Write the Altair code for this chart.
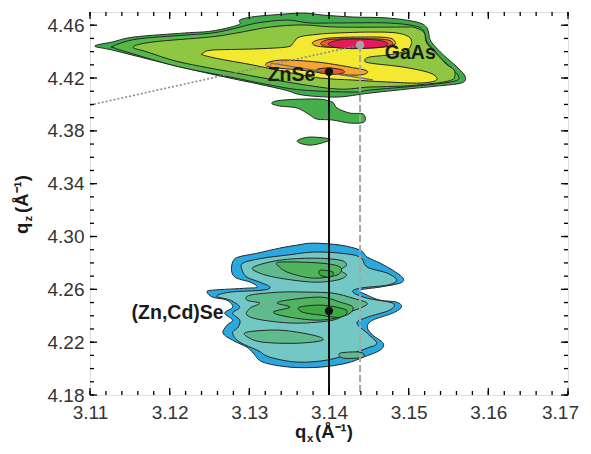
import altair as alt
import pandas as pd

W, H = 478, 383
FONT = "Liberation Sans"
OUTLINE = "#262626"

X_DOMAIN = [3.11, 3.17]
Y_DOMAIN = [4.18, 4.47]
X_LABELS = [3.11, 3.12, 3.13, 3.14, 3.15, 3.16, 3.17]
Y_LABELS = [4.18, 4.22, 4.26, 4.30, 4.34, 4.38, 4.42, 4.46]
X_MINOR = [round(3.11 + 0.002 * k, 3) for k in range(31)]
Y_MINOR = [round(4.18 + 0.01 * k, 2) for k in range(29)]

# ---- upper reflection (GaAs substrate + ZnSe buffer) contours ----
GAAS_C1 = [(3.1106, 4.4442), (3.1128, 4.4473), (3.1156, 4.4511), (3.1219, 4.4541), (3.1253, 4.4556),
           (3.1286, 4.4602), (3.1288, 4.4639), (3.1303, 4.4662), (3.1328, 4.4677), (3.1367, 4.4692),
           (3.1392, 4.4677), (3.1430, 4.4662), (3.1473, 4.4655), (3.1510, 4.4624), (3.1523, 4.4579),
           (3.1527, 4.4488), (3.1535, 4.4427), (3.1545, 4.4367), (3.1562, 4.4276), (3.1571, 4.4208),
           (3.1566, 4.4162), (3.1535, 4.4139), (3.1510, 4.4124), (3.1451, 4.4086), (3.1410, 4.4056),
           (3.1367, 4.4071), (3.1345, 4.4109), (3.1311, 4.4155), (3.1269, 4.4208), (3.1219, 4.4276),
           (3.1178, 4.4336), (3.1128, 4.4412)]
GAAS_C2 = [(3.1129, 4.4442), (3.1159, 4.4495), (3.1222, 4.4526), (3.1254, 4.4541), (3.1284, 4.4579),
           (3.1310, 4.4617), (3.1347, 4.4639), (3.1376, 4.4617), (3.1410, 4.4617), (3.1473, 4.4617),
           (3.1508, 4.4594), (3.1519, 4.4556), (3.1523, 4.4473), (3.1532, 4.4412), (3.1540, 4.4352),
           (3.1555, 4.4268), (3.1563, 4.4208), (3.1558, 4.4177), (3.1534, 4.4155), (3.1495, 4.4132),
           (3.1451, 4.4109), (3.1430, 4.4094), (3.1367, 4.4109), (3.1326, 4.4147), (3.1276, 4.4208),
           (3.1213, 4.4283), (3.1159, 4.4374), (3.1131, 4.4427)]
GAAS_C3 = [(3.1154, 4.4435), (3.1179, 4.4473), (3.1251, 4.4511), (3.1284, 4.4541), (3.1326, 4.4586),
           (3.1367, 4.4602), (3.1410, 4.4586), (3.1493, 4.4586), (3.1505, 4.4586), (3.1519, 4.4548),
           (3.1522, 4.4473), (3.1530, 4.4412), (3.1539, 4.4359), (3.1547, 4.4306), (3.1557, 4.4261),
           (3.1558, 4.4215), (3.1554, 4.4185), (3.1535, 4.4162), (3.1493, 4.4139), (3.1451, 4.4132),
           (3.1410, 4.4117), (3.1347, 4.4170), (3.1284, 4.4238), (3.1213, 4.4321), (3.1172, 4.4397)]
GAAS_C4 = [(3.1242, 4.4389), (3.1254, 4.4412), (3.1305, 4.4420), (3.1347, 4.4435), (3.1355, 4.4465),
           (3.1363, 4.4511), (3.1389, 4.4533), (3.1410, 4.4541), (3.1451, 4.4548), (3.1485, 4.4541),
           (3.1502, 4.4503), (3.1502, 4.4435), (3.1493, 4.4397), (3.1473, 4.4374), (3.1451, 4.4359),
           (3.1445, 4.4336), (3.1451, 4.4314), (3.1493, 4.4283), (3.1527, 4.4238), (3.1535, 4.4185),
           (3.1514, 4.4162), (3.1473, 4.4170), (3.1430, 4.4185), (3.1389, 4.4200), (3.1347, 4.4245),
           (3.1305, 4.4298), (3.1263, 4.4344), (3.1242, 4.4374)]
GAAS_C5 = [(3.1380, 4.4473), (3.1401, 4.4503), (3.1451, 4.4511), (3.1476, 4.4503), (3.1483, 4.4473),
           (3.1480, 4.4450), (3.1451, 4.4431), (3.1410, 4.4431), (3.1385, 4.4442)]
GAAS_C6 = [(3.1391, 4.4473), (3.1407, 4.4495), (3.1464, 4.4495), (3.1479, 4.4473), (3.1476, 4.4442),
           (3.1451, 4.4427), (3.1407, 4.4431), (3.1392, 4.4446)]
GAAS_C7 = [(3.1399, 4.4461), (3.1417, 4.4492), (3.1451, 4.4492), (3.1471, 4.4473), (3.1470, 4.4439),
           (3.1435, 4.4423), (3.1409, 4.4431)]
ZNSE_C1 = [(3.1322, 4.4314), (3.1342, 4.4336), (3.1385, 4.4321), (3.1426, 4.4283), (3.1448, 4.4253),
           (3.1439, 4.4223), (3.1405, 4.4230), (3.1363, 4.4261), (3.1326, 4.4283)]
ZNSE_C2 = [(3.1386, 4.4268), (3.1401, 4.4276), (3.1417, 4.4261), (3.1418, 4.4238), (3.1401, 4.4230),
           (3.1385, 4.4245)]
SAT_A = [(3.1328, 4.4011), (3.1342, 4.4033), (3.1385, 4.4041), (3.1404, 4.4018), (3.1410, 4.3973),
         (3.1426, 4.3935), (3.1443, 4.3927), (3.1444, 4.3867), (3.1426, 4.3859), (3.1405, 4.3882),
         (3.1385, 4.3889), (3.1376, 4.3920), (3.1360, 4.3973), (3.1338, 4.3988)]
SAT_B = [(3.1361, 4.3730), (3.1376, 4.3753), (3.1401, 4.3738), (3.1391, 4.3708), (3.1376, 4.3692),
         (3.1363, 4.3708)]

# ---- lower reflection ((Zn,Cd)Se layer) contours ----
ZNCD_C1 = [(3.1279, 4.2806), (3.1286, 4.2844), (3.1310, 4.2874), (3.1338, 4.2912), (3.1360, 4.2935),
           (3.1380, 4.2950), (3.1414, 4.2935), (3.1439, 4.2897), (3.1448, 4.2844), (3.1464, 4.2799),
           (3.1480, 4.2745), (3.1493, 4.2685), (3.1489, 4.2647), (3.1464, 4.2617), (3.1439, 4.2594),
           (3.1448, 4.2556), (3.1464, 4.2518), (3.1485, 4.2503), (3.1491, 4.2465), (3.1480, 4.2420),
           (3.1455, 4.2367), (3.1448, 4.2314), (3.1455, 4.2253), (3.1468, 4.2192), (3.1464, 4.2139),
           (3.1443, 4.2086), (3.1422, 4.2041), (3.1389, 4.2011), (3.1351, 4.2011), (3.1317, 4.2049),
           (3.1305, 4.2117), (3.1297, 4.2162), (3.1279, 4.2215), (3.1267, 4.2268), (3.1272, 4.2329),
           (3.1279, 4.2367), (3.1269, 4.2420), (3.1279, 4.2465), (3.1272, 4.2518), (3.1254, 4.2541),
           (3.1247, 4.2579), (3.1254, 4.2594), (3.1297, 4.2609), (3.1310, 4.2617), (3.1301, 4.2655),
           (3.1284, 4.2685), (3.1278, 4.2730)]
ZNCD_C2 = [(3.1292, 4.2799), (3.1317, 4.2836), (3.1347, 4.2859), (3.1380, 4.2882), (3.1414, 4.2874),
           (3.1439, 4.2844), (3.1448, 4.2768), (3.1473, 4.2723), (3.1485, 4.2670), (3.1473, 4.2632),
           (3.1439, 4.2609), (3.1430, 4.2579), (3.1448, 4.2533), (3.1480, 4.2495), (3.1476, 4.2442),
           (3.1448, 4.2389), (3.1435, 4.2344), (3.1448, 4.2268), (3.1460, 4.2192), (3.1448, 4.2155),
           (3.1430, 4.2117), (3.1397, 4.2064), (3.1360, 4.2049), (3.1326, 4.2086), (3.1310, 4.2139),
           (3.1288, 4.2200), (3.1279, 4.2268), (3.1286, 4.2314), (3.1288, 4.2367), (3.1279, 4.2420),
           (3.1288, 4.2465), (3.1276, 4.2518), (3.1259, 4.2548), (3.1276, 4.2579), (3.1317, 4.2594),
           (3.1326, 4.2617), (3.1313, 4.2655), (3.1297, 4.2692), (3.1291, 4.2745)]
ZNCD_C3A = [(3.1305, 4.2768), (3.1338, 4.2821), (3.1380, 4.2836), (3.1414, 4.2821), (3.1422, 4.2783),
            (3.1414, 4.2745), (3.1422, 4.2708), (3.1410, 4.2670), (3.1380, 4.2655), (3.1338, 4.2685),
            (3.1313, 4.2723)]
ZNCD_C3B = [(3.1301, 4.2556), (3.1338, 4.2579), (3.1372, 4.2579), (3.1405, 4.2571), (3.1430, 4.2533),
            (3.1448, 4.2495), (3.1439, 4.2458), (3.1422, 4.2420), (3.1405, 4.2367), (3.1360, 4.2344),
            (3.1317, 4.2367), (3.1297, 4.2405), (3.1301, 4.2458), (3.1313, 4.2495), (3.1297, 4.2518)]
ZNCD_C3C = [(3.1297, 4.2276), (3.1338, 4.2291), (3.1380, 4.2253), (3.1392, 4.2215), (3.1360, 4.2192),
            (3.1317, 4.2200), (3.1298, 4.2238)]
ZNCD_C3D = [(3.1414, 4.2117), (3.1439, 4.2124), (3.1443, 4.2086), (3.1418, 4.2079)]
ZNCD_C4A = [(3.1338, 4.2806), (3.1389, 4.2799), (3.1414, 4.2768), (3.1410, 4.2708), (3.1380, 4.2685),
            (3.1351, 4.2723), (3.1338, 4.2768)]
ZNCD_C4B = [(3.1347, 4.2518), (3.1389, 4.2541), (3.1414, 4.2503), (3.1430, 4.2465), (3.1422, 4.2405),
            (3.1389, 4.2367), (3.1351, 4.2389), (3.1330, 4.2427), (3.1351, 4.2465), (3.1335, 4.2495)]
ZNCD_C5A = [(3.1389, 4.2745), (3.1405, 4.2730), (3.1401, 4.2692), (3.1389, 4.2708)]
ZNCD_C5B = [(3.1363, 4.2465), (3.1392, 4.2480), (3.1422, 4.2442), (3.1414, 4.2389), (3.1389, 4.2405),
            (3.1367, 4.2427)]

CONTOURS = [
    (GAAS_C1, "#3fab4a"), (GAAS_C2, "#58b748"), (GAAS_C3, "#8fc742"), (GAAS_C4, "#f3e931"),
    (GAAS_C5, "#f6a531"), (GAAS_C6, "#ef5a2b"), (GAAS_C7, "#e31b5c"),
    (ZNSE_C1, "#f6a531"), (ZNSE_C2, "#ef5a2b"),
    (SAT_A, "#45b04a"), (SAT_B, "#45b04a"),
    (ZNCD_C1, "#2aa8e0"), (ZNCD_C2, "#73c7c5"),
    (ZNCD_C3A, "#5fba8e"), (ZNCD_C3B, "#5fba8e"), (ZNCD_C3C, "#5fba8e"), (ZNCD_C3D, "#5fba8e"),
    (ZNCD_C4A, "#4fb45d"), (ZNCD_C4B, "#4fb45d"),
    (ZNCD_C5A, "#3daa47"), (ZNCD_C5B, "#3daa47"),
]

PEAK_NAMES = ["GaAs", "ZnSe", "(Zn,Cd)Se"]
PEAK_X = [3.1439, 3.1400, 3.1400]
PEAK_Y = [4.4450, 4.4248, 4.2437]
PEAK_COLORS = ["#a6a6a6", "#111111", "#111111"]
LABEL_X = [3.1502, 3.1353, 3.1210]
LABEL_Y = [4.4389, 4.4223, 4.2420]

RELAX_X = [3.1100, 3.1439]
RELAX_Y = [4.3995, 4.4450]
TILT_X = [3.1326, 3.1455]
TILT_Y = [4.4314, 4.4185]

XS = alt.Scale(domain=X_DOMAIN, nice=False, zero=False)
YS = alt.Scale(domain=Y_DOMAIN, nice=False, zero=False)
XAX = alt.Axis(values=X_LABELS, format=".2f", ticks=False, domain=False, grid=False,
               labelFont=FONT, labelFontSize=19, labelColor="#333333", labelPadding=8,
               labelFlush=False, labelOverlap=False, title=None,
               labelOffset={"condition": {"test": "datum.value > 3.169", "value": -8}, "value": 0})
YAX = alt.Axis(values=Y_LABELS, format=".2f", ticks=False, domain=False, grid=False,
               labelFont=FONT, labelFontSize=19, labelColor="#333333", labelPadding=6,
               labelFlush=False, labelOverlap=False, title=None)


def X(f="x"):
    return alt.X(f"{f}:Q", scale=XS, axis=XAX)


def Y(f="y"):
    return alt.Y(f"{f}:Q", scale=YS, axis=YAX)


layers = []
for pts, col in CONTOURS:
    df = pd.DataFrame({"x": [p[0] for p in pts], "y": [p[1] for p in pts], "i": list(range(len(pts)))})
    layers.append(
        alt.Chart(df).mark_line(fill=col, stroke=OUTLINE, strokeWidth=1,
                                interpolate="cardinal-closed", clip=True)
        .encode(x=X(), y=Y(), order=alt.Order("i:Q"))
    )

tilt = alt.Chart(pd.DataFrame({"x": TILT_X, "y": TILT_Y, "i": [0, 1]})).mark_line(
    color="#6e6e6e", strokeWidth=1.3).encode(x=X(), y=Y(), order=alt.Order("i:Q"))
relax = alt.Chart(pd.DataFrame({"x": RELAX_X, "y": RELAX_Y, "i": [0, 1]})).mark_line(
    color="#8a8a8a", strokeWidth=1.6, strokeDash=[2, 2]).encode(x=X(), y=Y(), order=alt.Order("i:Q"))

gaas_rule = alt.Chart(pd.DataFrame({"x": [PEAK_X[0]], "y": [PEAK_Y[0]], "y2": [Y_DOMAIN[0]]})).mark_rule(
    color="#a6a6a6", strokeWidth=2, strokeDash=[7, 3]).encode(x=X(), y=Y(), y2="y2:Q")
layer_rule = alt.Chart(pd.DataFrame({"x": [PEAK_X[1]], "y": [PEAK_Y[1]], "y2": [Y_DOMAIN[0]]})).mark_rule(
    color="#111111", strokeWidth=2).encode(x=X(), y=Y(), y2="y2:Q")

peaks = alt.Chart(pd.DataFrame({"x": PEAK_X, "y": PEAK_Y, "c": PEAK_COLORS})).mark_circle(
    size=70, opacity=1).encode(x=X(), y=Y(), color=alt.Color("c:N", scale=None))

labels = alt.Chart(pd.DataFrame({"x": LABEL_X, "y": LABEL_Y, "t": PEAK_NAMES})).mark_text(
    font=FONT, fontSize=19.5, fontWeight="bold", color="#1a1a1a", align="center", baseline="middle"
).encode(x=X(), y=Y(), text="t:N")


def ticks_x(vals, length):
    df = pd.DataFrame({"x": vals})
    bottom = alt.Chart(df).mark_rule(color="black", strokeWidth=1.3).encode(
        x=X(), y=alt.value(H), y2=alt.value(H - length))
    top = alt.Chart(df).mark_rule(color="black", strokeWidth=1.3).encode(
        x=X(), y=alt.value(0), y2=alt.value(length))
    return [bottom, top]


def ticks_y(vals, length):
    df = pd.DataFrame({"y": vals})
    left = alt.Chart(df).mark_rule(color="black", strokeWidth=1.3).encode(
        y=Y(), x=alt.value(0), x2=alt.value(length))
    right = alt.Chart(df).mark_rule(color="black", strokeWidth=1.3).encode(
        y=Y(), x=alt.value(W), x2=alt.value(W - length))
    return [left, right]


tick_layers = ticks_x(X_MINOR, 4) + ticks_x(X_LABELS, 7) + ticks_y(Y_MINOR, 4) + ticks_y(Y_LABELS, 7)


def title_piece(text, x, y, size, angle=0):
    return alt.Chart(pd.DataFrame({"t": [text]})).mark_text(
        font=FONT, fontSize=size, fontWeight="bold", color="#1a1a1a", align="left",
        baseline="alphabetic", angle=angle
    ).encode(x=alt.value(x), y=alt.value(y), text="t:N")


titles = [
    title_piece("q", 205, 426, 18.5),
    title_piece("x", 217, 429.5, 11.5),
    title_piece("(Å⁻¹)", 225, 426, 18.5),
    title_piece("q", -62, 222, 18.5, 270),
    title_piece("z", -58, 209.5, 11.5, 270),
    title_piece("(Å⁻¹)", -62, 201, 18.5, 270),
]

chart = alt.layer(
    *layers, tilt, relax, gaas_rule, layer_rule, peaks, labels, *tick_layers, *titles
).properties(
    width=W, height=H,
    autosize=alt.AutoSizeParams(type="none"),
    padding={"left": 82, "top": 4, "right": 15, "bottom": 50},
).configure_view(stroke="black", strokeWidth=1.5).configure(background="white")

chart.save("out.html", embed_options={"renderer": "svg", "actions": False})
